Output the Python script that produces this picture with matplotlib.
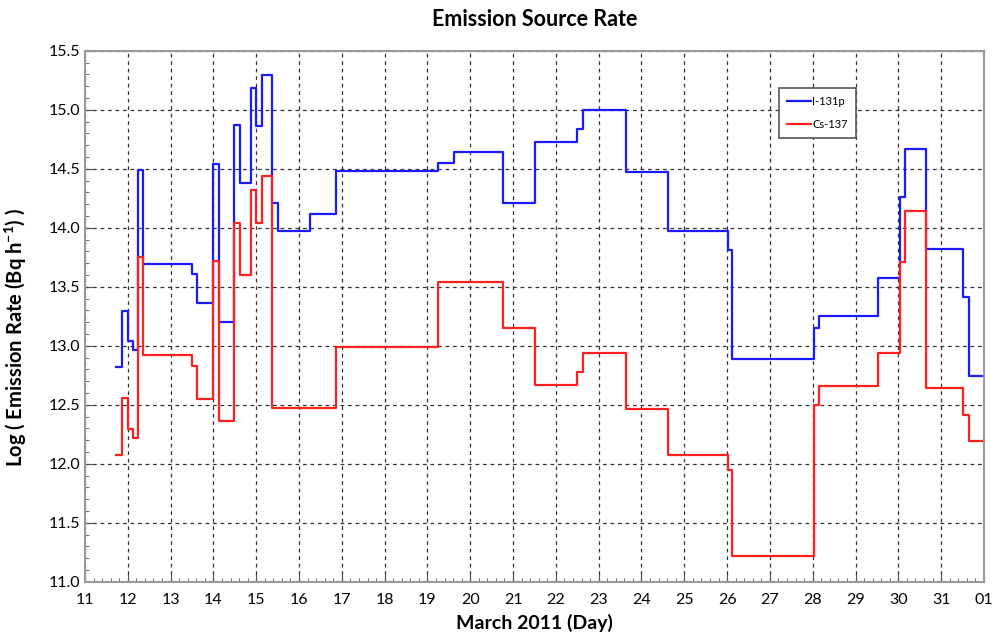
import matplotlib
matplotlib.use("Agg")
import matplotlib.pyplot as plt
from matplotlib.ticker import MultipleLocator, FormatStrFormatter

plt.rcParams['font.family'] = ['Lato', 'DejaVu Sans']
plt.rcParams['mathtext.fontset'] = 'custom'
plt.rcParams['mathtext.rm'] = 'Lato'
plt.rcParams['mathtext.bf'] = 'Lato:bold'

# change times (day of March 2011, 32 = 01 April)
days = [11.72, 11.86, 12.00, 12.12, 12.25, 12.36, 13.49, 13.62, 13.99, 14.12,
        14.49, 14.63, 14.88, 15.00, 15.13, 15.37, 15.50, 16.26, 16.86, 19.25,
        19.63, 20.77, 21.51, 22.50, 22.63, 23.64, 24.63, 26.01, 26.12, 28.02,
        28.15, 29.52, 30.03, 30.15, 30.64, 31.52, 31.65, 32.00]

i131 = [12.82, 13.29, 13.04, 12.96, 14.49, 13.69, 13.61, 13.36, 14.54, 13.20,
        14.87, 14.38, 15.18, 14.86, 15.29, 14.21, 13.97, 14.12, 14.48, 14.55,
        14.64, 14.21, 14.73, 14.84, 15.00, 14.47, 13.97, 13.81, 12.89, 13.15,
        13.25, 13.57, 14.26, 14.67, 13.82, 13.41, 12.74, 12.74]

cs137 = [12.07, 12.56, 12.29, 12.22, 13.75, 12.92, 12.83, 12.55, 13.72, 12.36,
         14.04, 13.60, 14.32, 14.04, 14.44, 12.47, 12.47, 12.47, 12.99, 13.54,
         13.54, 13.15, 12.67, 12.78, 12.94, 12.46, 12.07, 11.95, 11.22, 12.50,
         12.66, 12.94, 13.71, 14.14, 12.64, 12.41, 12.19, 12.19]

day_ticks = list(range(11, 33))
day_labels = [str(d) for d in range(11, 32)] + ['01']

fig = plt.figure(figsize=(9.95, 6.42), dpi=100)
ax = fig.add_axes([0.0854, 0.0939, 0.9035, 0.8271])

ax.step(days, i131, where='post', color='#1a1aff', lw=1.6, label='I-131p')
ax.step(days, cs137, where='post', color='#ff2020', lw=1.6, label='Cs-137')

ax.set_xlim(11, 32)
ax.set_ylim(11.0, 15.5)
ax.set_xticks(day_ticks)
ax.set_xticklabels(day_labels)
ax.xaxis.set_minor_locator(MultipleLocator(0.2))
ax.yaxis.set_major_locator(MultipleLocator(0.5))
ax.yaxis.set_minor_locator(MultipleLocator(0.1))
ax.yaxis.set_major_formatter(FormatStrFormatter('%.1f'))
ax.tick_params(which='both', direction='in', colors='#555555', labelcolor='black', labelsize=11.5)
ax.tick_params(which='major', length=6)
ax.tick_params(which='minor', length=3)
ax.tick_params(axis='x', pad=8)

ax.grid(True, which='major', linestyle=(0, (3, 3)), color='#333333', lw=0.9)
for s in ax.spines.values():
    s.set_color('#999999')
    s.set_linewidth(1.5)

ax.set_title('Emission Source Rate', fontsize=15.5, fontweight='bold', pad=18)
ax.set_xlabel('March 2011 (Day)', fontsize=14, fontweight='bold', labelpad=5)
ax.set_ylabel('Log ( Emission Rate (Bq h$^{\\mathbf{-1}}$) )', fontsize=14.5, fontweight='bold')
ax.yaxis.set_label_coords(-0.062, 0.46)

leg = ax.legend(loc='upper left', bbox_to_anchor=(0.766, 0.94), fontsize=8,
                fancybox=False, framealpha=1, edgecolor='#555555',
                handlelength=2.2, handletextpad=0.1, labelspacing=1.1,
                borderpad=0.7)
leg.get_frame().set_linewidth(1.2)

fig.savefig('out.png', dpi=100)
